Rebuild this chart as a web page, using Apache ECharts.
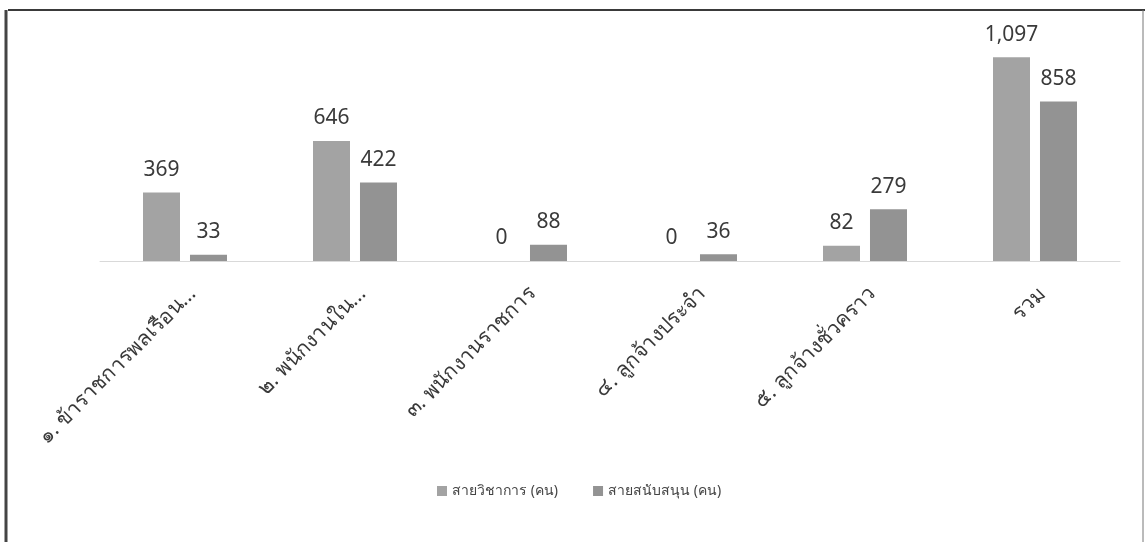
<!DOCTYPE html>
<html>
<head>
<meta charset="utf-8">
<script src="https://cdn.jsdelivr.net/npm/echarts@6/dist/echarts.min.js"></script>
<style>html,body{margin:0;padding:0;background:#fff}#c{width:1145px;height:542px}</style>
</head>
<body>
<div id="c"></div>
<script>
var categories = ['๑. ข้าราชการพลเรือน...', '๒. พนักงานใน...', '๓. พนักงานราชการ', '๔. ลูกจ้างประจำ', '๕. ลูกจ้างชั่วคราว', 'รวม'];
var academic = [369, 646, 0, 0, 82, 1097];
var support = [33, 422, 88, 36, 279, 858];
var seriesNames = ['สายวิชาการ (คน)', 'สายสนับสนุน (คน)'];

var chart = echarts.init(document.getElementById('c'));
var valueLabel = {
  show: true, position: 'top', distance: 12,
  fontSize: 21, color: '#3a3a3a', fontFamily: 'Noto Sans, sans-serif',
  formatter: function (p) { return p.value.toLocaleString('en-US'); }
};
chart.setOption({
  backgroundColor: '#ffffff',
  animation: false,
  grid: { left: 100, right: 25, top: 38, bottom: 281 },
  legend: {
    left: 432, top: 479, itemWidth: 10, itemHeight: 10, itemGap: 35,
    icon: 'rect',
    textStyle: { fontSize: 14, color: '#444', fontFamily: 'Noto Sans, sans-serif' },
    data: seriesNames
  },
  xAxis: {
    type: 'category', data: categories,
    axisLine: { lineStyle: { color: '#d9d9d9', width: 1 } },
    axisTick: { show: false },
    axisLabel: {
      rotate: 45, interval: 0, margin: 22, fontSize: 21, color: '#3a3a3a',
      verticalAlign: 'top', fontFamily: 'Noto Sans, sans-serif'
    }
  },
  yAxis: { type: 'value', min: 0, max: 1200, show: false, splitLine: { show: false } },
  series: [
    { name: seriesNames[0], type: 'bar', data: academic, barWidth: 37, barGap: '27%',
      itemStyle: { color: '#a3a3a3' }, label: valueLabel },
    { name: seriesNames[1], type: 'bar', data: support, barWidth: 37,
      itemStyle: { color: '#939393' }, label: valueLabel }
  ],
  graphic: [
    { type: 'line', shape: { x1: 8, y1: 10, x2: 1145, y2: 10 }, style: { stroke: '#3a3a3a', lineWidth: 2 } },
    { type: 'line', shape: { x1: 6, y1: 10, x2: 6, y2: 542 }, style: { stroke: '#444', lineWidth: 3 } },
    { type: 'line', shape: { x1: 1143, y1: 10, x2: 1143, y2: 542 }, style: { stroke: '#777', lineWidth: 1 } }
  ]
});
</script>
</body>
</html>
